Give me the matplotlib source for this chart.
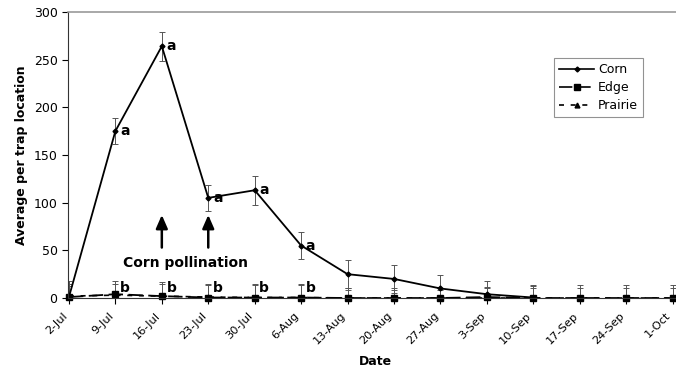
import numpy as np
import matplotlib.pyplot as plt
from matplotlib.lines import Line2D

# Weekly sampling dates
dates = ['2-Jul', '9-Jul', '16-Jul', '23-Jul', '30-Jul', '6-Aug', '13-Aug',
         '20-Aug', '27-Aug', '3-Sep', '10-Sep', '17-Sep', '24-Sep', '1-Oct']

corn = [1, 175, 264, 105, 113, 55, 25, 20, 10, 4, 0.5, 0, 0, 0]
corn_err = [14, 14, 15, 14, 15, 14, 15, 15, 14, 14, 13, 0, 0, 0]

edge = [1, 4, 2, 0.5, 0.5, 0.5, 0, 0, 0, 1, 0, 0, 0, 0]
edge_err = [12, 14, 13, 13, 13, 13, 8, 8, 8, 10, 13, 14, 14, 14]

prairie = [2, 3, 2, 1, 0.5, 0.5, 0, 0, 0, 0, 0, 0, 0, 0]
prairie_err = [16, 12, 15, 14, 14, 14, 10, 10, 10, 12, 10, 10, 10, 10]

# significance letters (index, text)
corn_letters = [(1, 'a'), (2, 'a'), (3, 'a'), (4, 'a'), (5, 'a')]
edge_letters = [(1, 'b'), (2, 'b'), (3, 'b'), (4, 'b'), (5, 'b')]

x = np.arange(len(dates))

fig = plt.figure(figsize=(6.76, 3.76), dpi=100)
ax = fig.add_axes([0.1006, 0.2074, 0.9, 0.761])

ecol = '#555555'
ax.errorbar(x, prairie, yerr=prairie_err, fmt='none', ecolor=ecol, elinewidth=0.7,
            capsize=2.5, capthick=0.7)
ax.errorbar(x, edge, yerr=edge_err, fmt='none', ecolor=ecol, elinewidth=0.7,
            capsize=2.5, capthick=0.7)
ax.errorbar(x[:11], corn[:11], yerr=corn_err[:11], fmt='none', ecolor=ecol,
            elinewidth=0.7, capsize=2.5, capthick=0.7)

ax.plot(x, prairie, color='black', lw=1.2, dashes=(3, 4), marker='^', ms=3.5,
        label='Prairie')
ax.plot(x, edge, color='black', lw=1.3, dashes=(8, 3), marker='s', ms=4,
        label='Edge', clip_on=False)
ax.plot(x[:11], corn[:11], color='black', lw=1.3, marker='D', ms=2.5, label='Corn')

for i, t in corn_letters:
    ax.text(x[i] + 0.1, corn[i], t, fontsize=10, fontweight='bold', va='center')
for i, t in edge_letters:
    ax.text(x[i] + 0.1, 10, t, fontsize=10, fontweight='bold', va='center')

# pollination arrows
for xi in [2, 3]:
    ax.annotate('', xy=(xi, 90), xytext=(xi, 50),
                arrowprops=dict(arrowstyle='-|>,head_width=0.35,head_length=0.8',
                                color='black', lw=1.8))
ax.text(2.5, 37, 'Corn pollination', fontsize=10, fontweight='bold',
        ha='center', va='center')

ax.set_xlim(-0.02, 13.08)
ax.set_ylim(0, 300)
ax.set_yticks(np.arange(0, 301, 50))
ax.set_xticks(x)
ax.set_xticklabels(dates, rotation=45, ha='right', fontsize=8.2)
ax.tick_params(axis='y', labelsize=9, length=4, direction='out')
ax.tick_params(axis='x', length=4, direction='out', pad=5)
ax.set_ylabel('Average per trap location', fontsize=9, fontweight='bold')
ax.set_xlabel('Date', fontsize=9, fontweight='bold')
ax.xaxis.set_label_coords(0.505, -0.2)

ax.spines['right'].set_visible(False)
ax.spines['top'].set_color('#999999')
ax.spines['top'].set_linewidth(1.2)
ax.spines['left'].set_color('#333333')
ax.spines['bottom'].set_color('#333333')

handles = [
    Line2D([], [], color='black', lw=1.2, marker='D', ms=2.5),
    Line2D([], [], color='black', lw=1.2, dashes=(8, 3), marker='s', ms=4),
    Line2D([], [], color='black', lw=1.2, dashes=(3, 4), marker='^', ms=3.5),
]
leg = ax.legend(handles, ['Corn', 'Edge', 'Prairie'], loc='upper left',
                bbox_to_anchor=(0.789, 0.86), fontsize=9, frameon=True,
                fancybox=False, edgecolor='#777777', handlelength=2.8,
                borderpad=0.4, labelspacing=0.4, handletextpad=0.3)
leg.get_frame().set_linewidth(0.8)

plt.savefig('out.png', dpi=100)
